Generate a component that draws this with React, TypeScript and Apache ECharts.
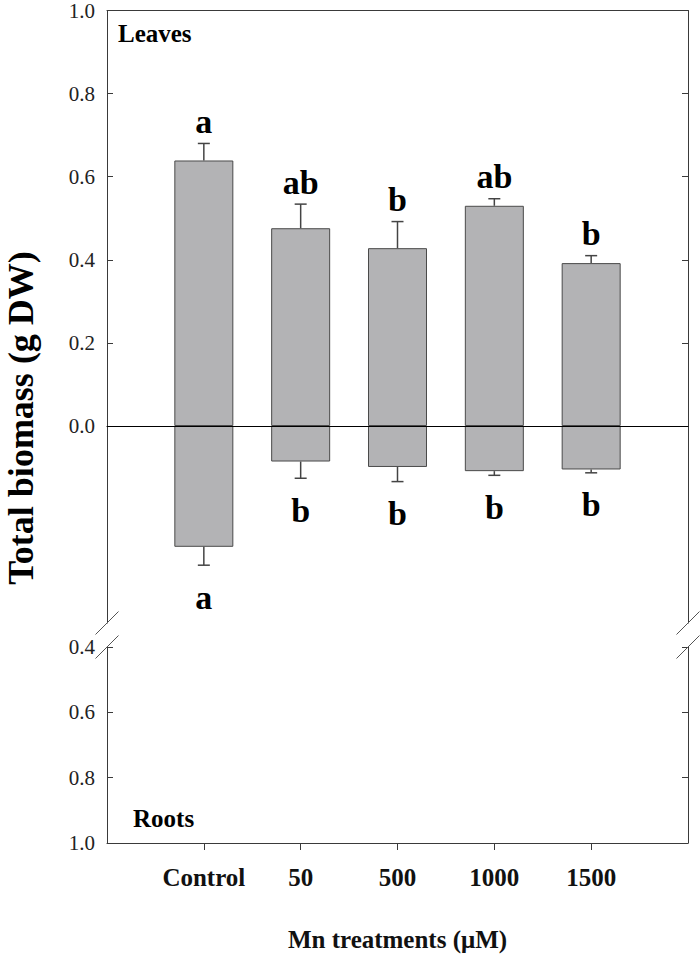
import React, { useEffect, useRef } from "react";
import * as echarts from "echarts";

// ---- data ----
const categories = ["Control", "50", "500", "1000", "1500"];
const leavesMean = [0.639, 0.476, 0.428, 0.53, 0.392];
const leavesErr = [0.041, 0.058, 0.064, 0.017, 0.018];
const leavesLetters = ["a", "ab", "b", "ab", "b"];
const rootsMean = [0.289, 0.085, 0.098, 0.108, 0.104];
const rootsErr = [0.044, 0.04, 0.035, 0.01, 0.008];
const rootsLetters = ["a", "b", "b", "b", "b"];
const categoryPositions = [1, 2, 3, 4, 5];

// ---- layout ----
const W = 700;
const H = 957;
const GL = 107;
const GR = 12;
const A_TOP = 8;
const A_H = 418;
const B_TOP = A_TOP + A_H;
const B_H = 197;
const GAP = 24;
const C_TOP = B_TOP + B_H + GAP;
const C_H = 196;
const SERIF = "'Liberation Serif', 'Times New Roman', serif";
const FRAME = "#3a3a3a";
const BAR_FILL = "#b3b3b5";
const BAR_EDGE = "#4a4a4a";

function errRenderer(letters: string[], down: boolean) {
  return (params: any, api: any) => {
    const x = api.value(0);
    const m = api.value(1);
    const e = api.value(2);
    const p0 = api.coord([x, m]);
    const p1 = api.coord([x, m + e]);
    const cap = 6;
    const letter = letters[params.dataIndex];
    const ty = down ? p1[1] + 49 : p1[1] - 5;
    return {
      type: "group",
      children: [
        {
          type: "line",
          shape: { x1: p0[0], y1: p0[1], x2: p1[0], y2: p1[1] },
          style: { stroke: "#444", lineWidth: 1.5 },
        },
        {
          type: "line",
          shape: { x1: p1[0] - cap, y1: p1[1], x2: p1[0] + cap, y2: p1[1] },
          style: { stroke: "#444", lineWidth: 1.5 },
        },
        {
          type: "text",
          x: p1[0],
          y: ty,
          style: {
            text: letter,
            fill: "#000",
            font: `bold 34px ${SERIF}`,
            align: "center",
            verticalAlign: "bottom",
            textAlign: "center",
            textVerticalAlign: "bottom",
          },
        },
      ],
    };
  };
}

function breakMarks() {
  const els: any[] = [];
  const xs = [GL, W - GR];
  const ys = [B_TOP + B_H, C_TOP];
  xs.forEach((x) =>
    ys.forEach((y) =>
      els.push({
        type: "line",
        z: 100,
        shape: { x1: x - 11.5, y1: y + 11.5, x2: x + 11.5, y2: y - 11.5 },
        style: { stroke: "#555", lineWidth: 1 },
      })
    )
  );
  return els;
}

export default function App() {
  const ref = useRef<HTMLDivElement>(null);
  useEffect(() => {
    if (!ref.current) return;
    const chart = echarts.init(ref.current, undefined, { renderer: "svg" });
    const hiddenX = {
      type: "value",
      min: 0,
      max: 6,
      axisLabel: { show: false },
      axisTick: { show: false },
      splitLine: { show: false },
    };
    const yLabel = {
      fontFamily: SERIF,
      fontSize: 21,
      color: "#222",
      margin: 12,
      formatter: (v: number) => v.toFixed(1),
    };
    const option: any = {
      animation: false,
      backgroundColor: "#fff",
      grid: [
        { left: GL, right: GR, top: A_TOP, height: A_H },
        { left: GL, right: GR, top: B_TOP, height: B_H },
        { left: GL, right: GR, top: C_TOP, height: C_H },
      ],
      xAxis: [
        {
          ...hiddenX,
          gridIndex: 0,
          position: "bottom",
          z: 10,
          axisLine: { show: true, onZero: false, lineStyle: { color: "#000", width: 1 } },
        },
        {
          ...hiddenX,
          gridIndex: 0,
          position: "top",
          axisLine: { show: true, onZero: false, lineStyle: { color: FRAME, width: 1 } },
        },
        {
          ...hiddenX,
          gridIndex: 1,
          axisLine: { show: false },
        },
        {
          type: "value",
          gridIndex: 2,
          position: "bottom",
          min: 0,
          max: 6,
          interval: 1,
          splitLine: { show: false },
          axisLine: { show: true, onZero: false, lineStyle: { color: FRAME, width: 1 } },
          axisTick: {
            show: true,
            inside: false,
            length: 7,
            customValues: categoryPositions,
            lineStyle: { color: FRAME },
          },
          axisLabel: {
            customValues: categoryPositions,
            fontFamily: SERIF,
            fontSize: 25,
            fontWeight: "bold",
            color: "#111",
            margin: 22,
            formatter: (v: number) => categories[Math.round(v) - 1] ?? "",
          },
          name: "Mn treatments (\u03bcM)",
          nameLocation: "middle",
          nameGap: 84,
          nameTextStyle: {
            fontFamily: SERIF,
            fontSize: 25,
            fontWeight: "bold",
            color: "#111",
          },
        },
      ],
      yAxis: [
        {
          type: "value",
          gridIndex: 0,
          position: "left",
          min: 0,
          max: 1,
          interval: 0.2,
          splitLine: { show: false },
          axisLine: { show: true, onZero: false, lineStyle: { color: FRAME } },
          axisTick: { show: true, inside: true, length: 6, lineStyle: { color: FRAME } },
          axisLabel: yLabel,
        },
        {
          type: "value",
          gridIndex: 0,
          position: "right",
          min: 0,
          max: 1,
          interval: 0.2,
          splitLine: { show: false },
          axisLine: { show: true, onZero: false, lineStyle: { color: FRAME } },
          axisTick: { show: true, inside: true, length: 6, lineStyle: { color: FRAME } },
          axisLabel: { show: false },
        },
        {
          type: "value",
          gridIndex: 1,
          position: "left",
          inverse: true,
          min: 0,
          max: B_H / A_H,
          splitLine: { show: false },
          axisLine: { show: true, onZero: false, lineStyle: { color: FRAME } },
          axisTick: { show: false },
          axisLabel: { show: false },
        },
        {
          type: "value",
          gridIndex: 1,
          position: "right",
          inverse: true,
          min: 0,
          max: B_H / A_H,
          splitLine: { show: false },
          axisLine: { show: true, onZero: false, lineStyle: { color: FRAME } },
          axisTick: { show: false },
          axisLabel: { show: false },
        },
        {
          type: "value",
          gridIndex: 2,
          position: "left",
          inverse: true,
          min: 0.4,
          max: 1.0,
          interval: 0.2,
          splitLine: { show: false },
          axisLine: { show: true, onZero: false, lineStyle: { color: FRAME } },
          axisTick: { show: true, inside: true, length: 6, lineStyle: { color: FRAME } },
          axisLabel: yLabel,
        },
        {
          type: "value",
          gridIndex: 2,
          position: "right",
          inverse: true,
          min: 0.4,
          max: 1.0,
          interval: 0.2,
          splitLine: { show: false },
          axisLine: { show: true, onZero: false, lineStyle: { color: FRAME } },
          axisTick: { show: true, inside: true, length: 6, lineStyle: { color: FRAME } },
          axisLabel: { show: false },
        },
      ],
      series: [
        {
          type: "bar",
          xAxisIndex: 0,
          yAxisIndex: 0,
          barWidth: 59,
          data: categoryPositions.map((x, i) => [x, leavesMean[i]]),
          itemStyle: { color: BAR_FILL, borderColor: BAR_EDGE, borderWidth: 1 },
        },
        {
          type: "bar",
          xAxisIndex: 2,
          yAxisIndex: 2,
          barWidth: 59,
          data: categoryPositions.map((x, i) => [x, rootsMean[i]]),
          itemStyle: { color: BAR_FILL, borderColor: BAR_EDGE, borderWidth: 1 },
        },
        {
          type: "custom",
          xAxisIndex: 0,
          yAxisIndex: 0,
          z: 5,
          clip: false,
          data: categoryPositions.map((x, i) => [x, leavesMean[i], leavesErr[i]]),
          renderItem: errRenderer(leavesLetters, false),
        },
        {
          type: "custom",
          xAxisIndex: 2,
          yAxisIndex: 2,
          z: 5,
          clip: false,
          data: categoryPositions.map((x, i) => [x, rootsMean[i], rootsErr[i]]),
          renderItem: errRenderer(rootsLetters, true),
        },
      ],
      graphic: [
        {
          type: "text",
          x: 21,
          y: 418,
          rotation: Math.PI / 2,
          style: {
            text: "Total biomass (g DW)",
            font: `bold 36px ${SERIF}`,
            fill: "#000",
            align: "center",
            verticalAlign: "middle",
            textAlign: "center",
            textVerticalAlign: "middle",
          },
        },
        {
          type: "text",
          x: 118,
          y: 33,
          style: {
            text: "Leaves",
            font: `bold 25px ${SERIF}`,
            fill: "#000",
            align: "left",
            verticalAlign: "middle",
            textAlign: "left",
            textVerticalAlign: "middle",
          },
        },
        {
          type: "text",
          x: 133,
          y: 818,
          style: {
            text: "Roots",
            font: `bold 25px ${SERIF}`,
            fill: "#000",
            align: "left",
            verticalAlign: "middle",
            textAlign: "left",
            textVerticalAlign: "middle",
          },
        },
        ...breakMarks(),
      ],
    };
    chart.setOption(option);
    return () => chart.dispose();
  }, []);
  return (
    <div
      ref={ref}
      style={{ position: "absolute", left: 0, top: 0, width: W, height: H }}
    />
  );
}
